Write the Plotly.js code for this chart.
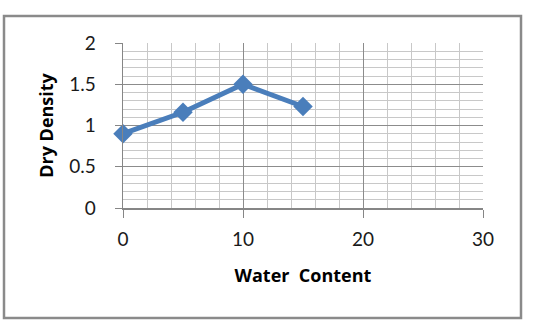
<!DOCTYPE html>
<html>
<head>
<meta charset="utf-8">
<script src="https://cdn.plot.ly/plotly-3.0.1.min.js"></script>
<style>
html,body{margin:0;padding:0;background:#fff;}
#chart{width:539px;height:320px;}
</style>
</head>
<body>
<div id="chart"></div>
<script>
const waterContent = [0, 5, 10, 15];
const dryDensity = [0.9, 1.16, 1.5, 1.23];
const xTickVals = [0, 10, 20, 30];
const yTickVals = [0, 0.5, 1, 1.5, 2];
const yTickText = ['0', '0.5', '1', '1.5', '2'];
const xTitle = 'Water&nbsp; Content';
const yTitle = 'Dry Density';

const L = 123, R = 483, T = 43, B = 208, W = 539, H = 320;
const px = X => (X - L) / (R - L);
const py = Y => (B - Y) / (B - T);

const trace = {
  x: waterContent,
  y: dryDensity,
  type: 'scatter',
  mode: 'lines+markers',
  line: {color: '#4A7EBB', width: 5},
  marker: {symbol: 'diamond', size: 15, color: '#4A7EBB'},
  cliponaxis: false,
  showlegend: false
};

const tickFont = {family: 'Lato, "Open Sans", sans-serif', size: 19, color: '#1a1a1a'};
const titleFont = {family: '"Open Sans", Lato, sans-serif', size: 18, color: '#000', weight: 'bold'};

const layout = {
  width: W, height: H,
  margin: {l: L, r: W - R, t: T, b: H - B, pad: 0},
  paper_bgcolor: '#fff', plot_bgcolor: '#fff',
  showlegend: false,
  xaxis: {
    range: [0, 30], tickmode: 'array', tickvals: xTickVals,
    ticks: 'outside', ticklen: 8, tickcolor: '#868686', tickwidth: 1,
    showline: true, linecolor: '#868686', linewidth: 1.5,
    showgrid: true, gridcolor: '#8c8c8c', gridwidth: 1,
    minor: {dtick: 2, showgrid: true, gridcolor: '#c8c8c8', gridwidth: 1},
    zeroline: false, tickfont: tickFont, ticklabelstandoff: 6,
    title: {text: xTitle, font: titleFont, standoff: 20}
  },
  yaxis: {
    range: [0, 2], tickmode: 'array', tickvals: yTickVals, ticktext: yTickText,
    ticks: 'outside', ticklen: 7, tickcolor: '#868686', tickwidth: 1,
    showline: true, linecolor: '#868686', linewidth: 1.5,
    showgrid: true, gridcolor: '#8c8c8c', gridwidth: 1,
    minor: {dtick: 0.1, showgrid: true, gridcolor: '#c8c8c8', gridwidth: 1},
    zeroline: false, tickfont: tickFont, ticklabelstandoff: 15,
    title: {text: yTitle, font: titleFont, standoff: 11}
  },
  shapes: [{
    type: 'rect', xref: 'paper', yref: 'paper',
    x0: px(4), x1: px(521), y0: py(318), y1: py(16),
    line: {color: '#8a8a8a', width: 2.5}, layer: 'below'
  }]
};

Plotly.newPlot('chart', [trace], layout, {staticPlot: true, displayModeBar: false});
</script>
</body>
</html>
